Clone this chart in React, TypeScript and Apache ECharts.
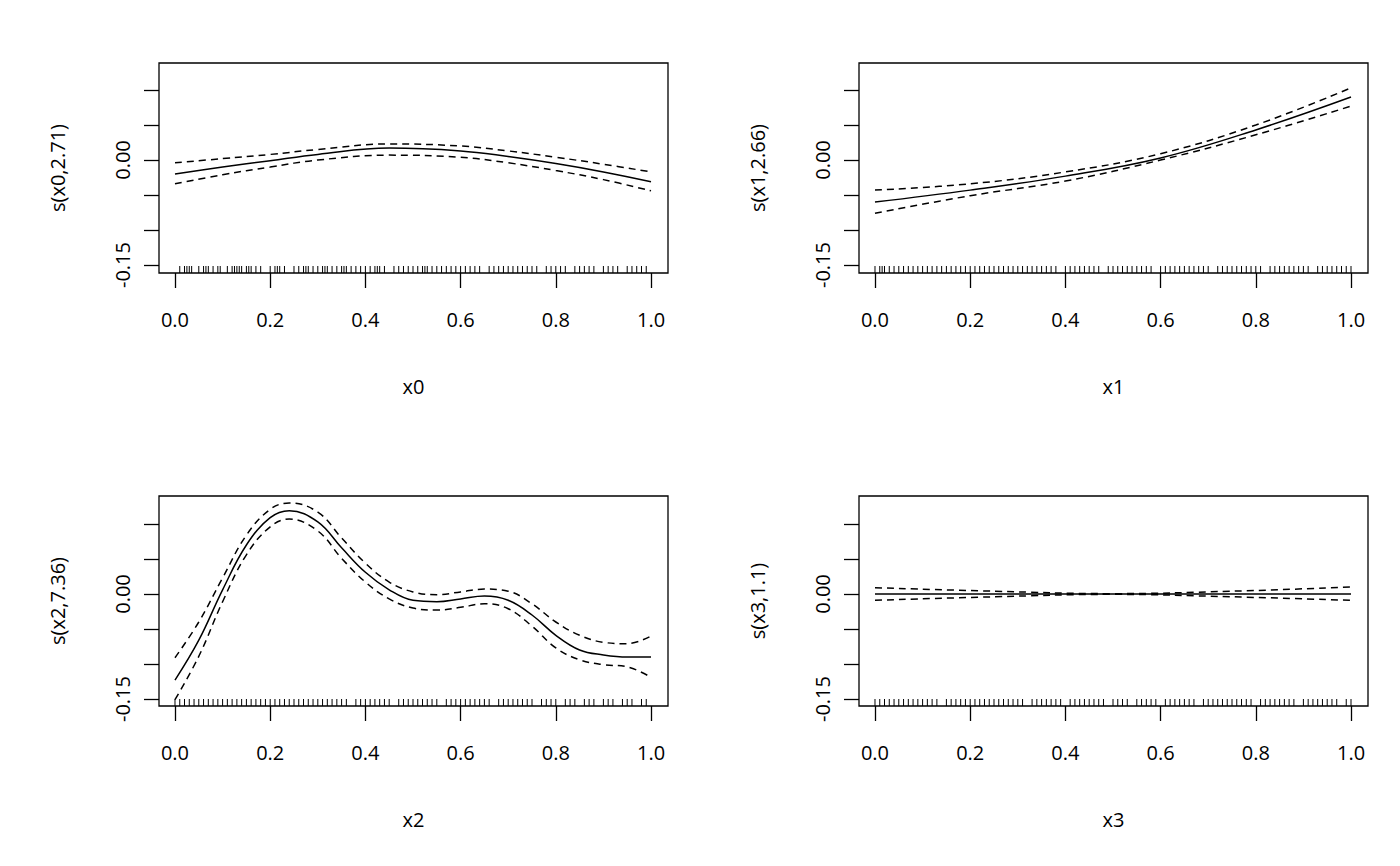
import React, { useRef, useEffect } from 'react';
import * as echarts from 'echarts';

// grid x positions for the smooth curves
const xs0 = [0, 0.1, 0.2, 0.3, 0.45, 0.6, 0.7, 0.8, 0.9, 1.0];
const fit0 = [-0.02, -0.01, -0.001, 0.008, 0.017, 0.013, 0.005, -0.005, -0.017, -0.031];
const up0 = [-0.004, 0.002, 0.008, 0.015, 0.023, 0.02, 0.013, 0.004, -0.006, -0.017];
const lo0 = [-0.034, -0.021, -0.01, 0.0, 0.007, 0.004, -0.004, -0.015, -0.028, -0.044];

const xs1 = [0, 0.2, 0.4, 0.6, 0.8, 1.0];
const fit1 = [-0.06, -0.043, -0.023, 0.003, 0.043, 0.09];
const up1 = [-0.043, -0.034, -0.017, 0.009, 0.05, 0.103];
const lo1 = [-0.076, -0.051, -0.03, 0.0, 0.036, 0.077];

const xs2 = [0, 0.05, 0.1, 0.15, 0.2, 0.24, 0.3, 0.35, 0.4, 0.45, 0.5, 0.55, 0.6, 0.65, 0.7, 0.75, 0.8, 0.85, 0.9, 0.95, 1.0];
const fit2 = [-0.123, -0.066, 0.006, 0.07, 0.109, 0.119, 0.103, 0.066, 0.031, 0.006, -0.009, -0.011, -0.007, -0.003, -0.009, -0.03, -0.059, -0.08, -0.087, -0.09, -0.09];
const up2 = [-0.091, -0.04, 0.023, 0.084, 0.121, 0.13, 0.117, 0.08, 0.044, 0.017, 0.003, -0.001, 0.003, 0.007, 0.004, -0.014, -0.04, -0.059, -0.069, -0.071, -0.06];
const lo2 = [-0.151, -0.089, -0.011, 0.056, 0.096, 0.107, 0.09, 0.051, 0.017, -0.007, -0.02, -0.023, -0.019, -0.014, -0.021, -0.046, -0.077, -0.094, -0.101, -0.104, -0.119];

const xs3 = [0, 0.25, 0.5, 0.75, 1.0];
const fit3 = [0, 0, 0, 0, 0];
const up3 = [0.009, 0.004, 0.0005, 0.004, 0.01];
const lo3 = [-0.009, -0.004, -0.0005, -0.004, -0.009];

// rug (observed covariate values)
const rug0 = [0.01, 0.02, 0.025, 0.03, 0.035, 0.05, 0.06, 0.065, 0.07, 0.08, 0.09, 0.095, 0.11, 0.12, 0.125, 0.13, 0.135, 0.14, 0.15, 0.155, 0.16, 0.17, 0.18, 0.2, 0.21, 0.215, 0.22, 0.23, 0.25, 0.26, 0.27, 0.275, 0.28, 0.29, 0.3, 0.31, 0.315, 0.32, 0.33, 0.34, 0.35, 0.355, 0.36, 0.37, 0.38, 0.39, 0.4, 0.41, 0.42, 0.425, 0.43, 0.44, 0.46, 0.47, 0.48, 0.49, 0.5, 0.51, 0.52, 0.525, 0.53, 0.54, 0.55, 0.56, 0.57, 0.58, 0.59, 0.6, 0.61, 0.62, 0.63, 0.64, 0.66, 0.67, 0.68, 0.69, 0.7, 0.71, 0.72, 0.73, 0.74, 0.75, 0.76, 0.78, 0.79, 0.8, 0.81, 0.82, 0.84, 0.85, 0.86, 0.87, 0.88, 0.9, 0.91, 0.92, 0.93, 0.95, 0.96, 0.97, 0.98, 0.99];
const rug1 = [0.0, 0.01, 0.015, 0.02, 0.03, 0.04, 0.05, 0.06, 0.07, 0.08, 0.09, 0.1, 0.11, 0.12, 0.13, 0.14, 0.15, 0.16, 0.17, 0.18, 0.19, 0.2, 0.21, 0.22, 0.23, 0.24, 0.25, 0.26, 0.27, 0.28, 0.29, 0.3, 0.31, 0.32, 0.33, 0.34, 0.35, 0.36, 0.37, 0.38, 0.4, 0.41, 0.42, 0.43, 0.44, 0.45, 0.46, 0.47, 0.49, 0.5, 0.51, 0.52, 0.53, 0.54, 0.55, 0.56, 0.57, 0.58, 0.6, 0.61, 0.62, 0.63, 0.64, 0.65, 0.66, 0.67, 0.68, 0.69, 0.7, 0.72, 0.73, 0.74, 0.75, 0.76, 0.77, 0.78, 0.79, 0.8, 0.81, 0.83, 0.84, 0.85, 0.86, 0.87, 0.88, 0.89, 0.9, 0.91, 0.93, 0.94, 0.95, 0.96, 0.97, 0.98, 0.99, 1.0];
const rug2 = [0.0, 0.01, 0.02, 0.03, 0.04, 0.05, 0.06, 0.07, 0.08, 0.09, 0.1, 0.11, 0.12, 0.13, 0.14, 0.15, 0.16, 0.17, 0.18, 0.19, 0.2, 0.21, 0.22, 0.23, 0.24, 0.25, 0.26, 0.27, 0.28, 0.29, 0.3, 0.31, 0.32, 0.33, 0.34, 0.35, 0.36, 0.38, 0.39, 0.4, 0.41, 0.42, 0.43, 0.44, 0.45, 0.47, 0.48, 0.49, 0.5, 0.51, 0.52, 0.53, 0.54, 0.55, 0.57, 0.58, 0.59, 0.6, 0.61, 0.62, 0.63, 0.64, 0.65, 0.66, 0.68, 0.69, 0.7, 0.71, 0.72, 0.73, 0.74, 0.75, 0.77, 0.78, 0.79, 0.8, 0.82, 0.83, 0.84, 0.86, 0.87, 0.88, 0.9, 0.91, 0.92, 0.94, 0.95, 0.96, 0.98, 0.99];
const rug3 = [0.0, 0.01, 0.02, 0.03, 0.04, 0.05, 0.06, 0.07, 0.08, 0.09, 0.1, 0.11, 0.12, 0.13, 0.15, 0.16, 0.17, 0.18, 0.19, 0.2, 0.21, 0.22, 0.23, 0.24, 0.25, 0.26, 0.27, 0.28, 0.29, 0.3, 0.31, 0.33, 0.34, 0.35, 0.36, 0.37, 0.38, 0.39, 0.41, 0.42, 0.43, 0.44, 0.45, 0.46, 0.47, 0.48, 0.5, 0.51, 0.52, 0.53, 0.55, 0.56, 0.57, 0.58, 0.59, 0.61, 0.62, 0.63, 0.64, 0.65, 0.66, 0.67, 0.69, 0.7, 0.71, 0.72, 0.73, 0.74, 0.75, 0.76, 0.77, 0.78, 0.79, 0.81, 0.82, 0.83, 0.84, 0.85, 0.86, 0.87, 0.88, 0.9, 0.91, 0.92, 0.93, 0.94, 0.95, 0.96, 0.97, 0.99, 1.0];

const xNames = ['x0', 'x1', 'x2', 'x3'];
const yNames = ['s(x0,2.71)', 's(x1,2.66)', 's(x2,7.36)', 's(x3,1.1)'];
const xTicks = [0, 0.2, 0.4, 0.6, 0.8, 1.0];
const yTicks = [-0.15, -0.1, -0.05, 0, 0.05, 0.1];
const yLabels = [-0.15, 0];

const panels = [
  { xs: xs0, fit: fit0, up: up0, lo: lo0, rug: rug0 },
  { xs: xs1, fit: fit1, up: up1, lo: lo1, rug: rug1 },
  { xs: xs2, fit: fit2, up: up2, lo: lo2, rug: rug2 },
  { xs: xs3, fit: fit3, up: up3, lo: lo3, rug: rug3 },
];

const font = '"Open Sans", "Noto Sans", sans-serif';

export default function App() {
  const ref = useRef<HTMLDivElement>(null);

  useEffect(() => {
    if (!ref.current) return;
    const chart = echarts.init(ref.current, null, { renderer: 'svg' });
    const lefts = [159, 859, 159, 859];
    const tops = [63, 63, 496, 496];
    const grid = panels.map((_, i) => ({
      left: lefts[i], top: tops[i], width: 509, height: 210,
      show: true, borderColor: '#000', borderWidth: 1.3, backgroundColor: 'transparent',
    }));
    const yMin = [-0.1614, -0.1614, -0.16, -0.16];
    const yMax = [0.1386, 0.1386, 0.14, 0.14];
    const xAxis = panels.map((_, i) => ({
      type: 'value', gridIndex: i, min: -0.0336, max: 1.0357, position: 'bottom',
      name: xNames[i], nameLocation: 'middle', nameGap: 103,
      nameTextStyle: { fontFamily: font, fontSize: 20, color: '#000' },
      axisLine: { show: false, onZero: false }, splitLine: { show: false },
      axisTick: { show: true, inside: false, length: 15, lineStyle: { color: '#000', width: 1.3 }, customValues: xTicks },
      axisLabel: { fontFamily: font, fontSize: 20, color: '#000', margin: 36, customValues: xTicks, formatter: (v: number) => v.toFixed(1) },
    }));
    const yAxis = panels.map((_, i) => ({
      type: 'value', gridIndex: i, min: yMin[i], max: yMax[i], position: 'left',
      name: yNames[i], nameLocation: 'middle', nameGap: 92, nameRotate: 90,
      nameTextStyle: { fontFamily: font, fontSize: 20, color: '#000' },
      axisLine: { show: false, onZero: false }, splitLine: { show: false },
      axisTick: { show: true, length: 15, lineStyle: { color: '#000', width: 1.3 }, customValues: yTicks },
      axisLabel: { fontFamily: font, fontSize: 20, color: '#000', rotate: 90, margin: 27, customValues: yLabels, formatter: (v: number) => v.toFixed(2) },
    }));
    const series: any[] = [];
    panels.forEach((p, i) => {
      const mk = (ys: number[], dashed: boolean) => ({
        type: 'line', xAxisIndex: i, yAxisIndex: i, smooth: 0.4, symbol: 'none',
        data: p.xs.map((x, k) => [x, ys[k]]),
        lineStyle: { color: '#000', width: 1.5, type: dashed ? [7, 5] : 'solid' },
      });
      series.push(mk(p.fit, false), mk(p.up, true), mk(p.lo, true));
      series.push({
        type: 'custom', xAxisIndex: i, yAxisIndex: i, clip: false,
        data: p.rug.map((x) => [x]),
        renderItem: (_params: any, api: any) => {
          const pt = api.coord([api.value(0), yMin[i]]);
          return { type: 'line', shape: { x1: pt[0], y1: pt[1], x2: pt[0], y2: pt[1] - 7 }, style: { stroke: '#000', lineWidth: 1 } };
        },
      });
    });
    chart.setOption({ animation: false, backgroundColor: '#fff', grid, xAxis, yAxis, series });
    return () => chart.dispose();
  }, []);

  return <div ref={ref} style={{ position: 'absolute', left: 0, top: 0, width: 1400, height: 866 }} />;
}
